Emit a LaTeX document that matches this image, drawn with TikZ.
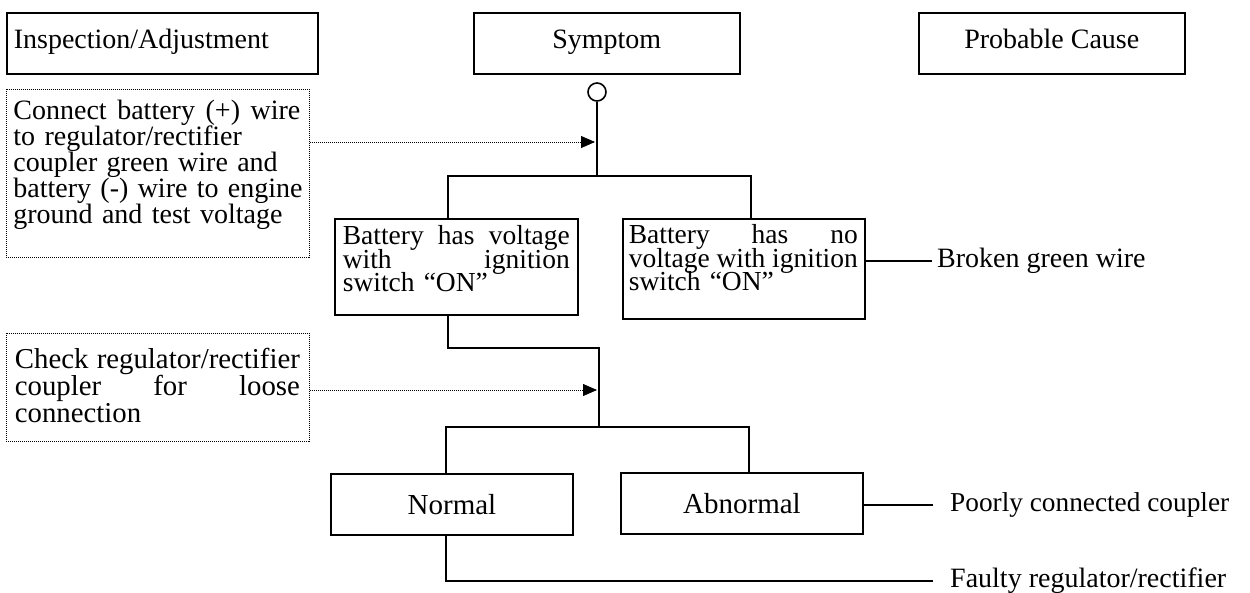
\documentclass[tikz,border=0pt]{standalone}
\usepackage{fontspec}
\setmainfont{Liberation Serif}
\usetikzlibrary{arrows.meta}
\newcommand{\myline}[2]{\leavevmode\hbox to #1{#2}}
\begin{document}
\begin{tikzpicture}[x=1pt,y=-1pt,
  box/.style={draw, line width=1.6pt, inner ysep=0pt},
  dbox/.style={draw, line width=0.8pt, dash pattern=on 1pt off 1pt, inner ysep=0pt},
  wire/.style={line width=1.6pt},
  dotarrow/.style={line width=0.8pt, dash pattern=on 1pt off 1pt, -{Triangle[length=14pt,width=12pt]}},
  hfont/.style={font=\fontsize{28}{30}\selectfont},
  f29/.style={font={\fontsize{28}{26}\selectfont\lineskiplimit=-100pt}},
  f29b/.style={font={\fontsize{28.8}{27}\selectfont\lineskiplimit=-100pt}},
  fbat/.style={font={\fontsize{27.5}{23.5}\selectfont\lineskiplimit=-100pt}},
  cause/.style={hfont, anchor=west, inner ysep=0pt}
]
\useasboundingbox (0,0) rectangle (1250,592);

% header boxes
\node[box, hfont, anchor=north west, inner xsep=7pt, text width=297pt, align=left,
      text height=36pt, text depth=25pt] (insp) at (6,12) {Inspection/Adjustment};
\node[box, hfont, anchor=north west, minimum width=266pt,
      text height=36pt, text depth=25pt] (sym) at (473,12) {Symptom};
\node[box, hfont, anchor=north west, minimum width=266pt,
      text height=36pt, text depth=25pt] (prob) at (918,12) {Probable Cause};

% inspection boxes
\node[dbox, f29, anchor=north west, inner xsep=7pt, text width=289pt, align=left,
      text height=30pt, text depth=138pt] (ia1) at (6,89)
  {\myline{287pt}{Connect\hfill battery\hfill (+)\hfill wire}\\
   \myline{289pt}{to regulator/rectifier\hfil}\\
   \myline{289pt}{coupler green wire and\hfil}\\
   \myline{289pt}{battery (-) wire to engine\hfil}\\
   \myline{289pt}{ground and test voltage\hfil}};
\node[dbox, f29b, anchor=north west, inner xsep=8.5pt, text width=286pt, align=left,
      text height=35pt, text depth=73pt] (ia2) at (6,333)
  {\myline{285pt}{Check\hfill regulator/rectifier}\\
   \myline{285pt}{coupler\hfill for\hfill loose}\\
   \myline{285pt}{connection\hfil}};

% symptom circle
\node[draw, circle, line width=1.6pt, minimum size=18pt, inner sep=0pt] (circ) at (597,92) {};

% symptom boxes
\node[box, fbat, anchor=north west, inner xsep=8pt, text width=227pt, align=left,
      text height=26pt, text depth=70pt] (volt) at (334,218)
  {\myline{227pt}{Battery\hfill has\hfill voltage}\\
   \myline{227pt}{with\hfill ignition}\\
   \myline{227pt}{switch “ON”\hfil}};
\node[box, fbat, anchor=north west, inner xsep=6pt, text width=230pt, align=left,
      text height=25pt, text depth=75pt] (novolt) at (622,218)
  {\myline{229pt}{Battery\hfill has\hfill no}\\
   \myline{229pt}{voltage\hfill with\hfill ignition}\\
   \myline{229pt}{switch “ON”\hfil}};
\node[box, font=\fontsize{29}{30}\selectfont, minimum width=242pt, minimum height=61pt, inner sep=0pt] (norm) at (452,504.5) {Normal};
\node[box, font=\fontsize{29}{30}\selectfont, minimum width=242pt, minimum height=61pt, inner sep=0pt] (abn) at (742,503.5) {Abnormal};

% causes
\node[cause, inner xsep=5pt] (c1) at (932,261) {Broken green wire};
\node[cause, inner xsep=17pt, font=\fontsize{27.3}{30}\selectfont] (c2) at (933,505) {Poorly connected coupler};
\node[cause, inner xsep=17pt] (c3) at (933,581) {Faulty regulator/rectifier};

% tree 1
\coordinate (j1) at (597,176);
\draw[wire] (circ.south) -- (j1);
\draw[wire] ([xshift=114pt]volt.north west) |- (j1) -| ([xshift=129pt]novolt.north west);
\coordinate (t1) at (595,142);
\draw[dotarrow] (ia1.east |- t1) -- (t1);

% tree 2
\coordinate (j2) at (599,348);
\coordinate (j3) at (599,427);
\draw[wire] ([xshift=114pt]volt.south west) |- (j2) -- (j3);
\draw[wire] ([xshift=116pt]norm.north west) |- (j3) -| ([xshift=129pt]abn.north west);
\coordinate (t2) at (597,390);
\draw[dotarrow] (ia2.east |- t2) -- (t2);

% cause connectors
\draw[wire] (novolt.east |- c1.west) -- (c1.west);
\draw[wire] (abn.east |- c2.west) -- (c2.west);
\draw[wire] ([xshift=116pt]norm.south west) |- (c3.west);
\end{tikzpicture}
\end{document}
